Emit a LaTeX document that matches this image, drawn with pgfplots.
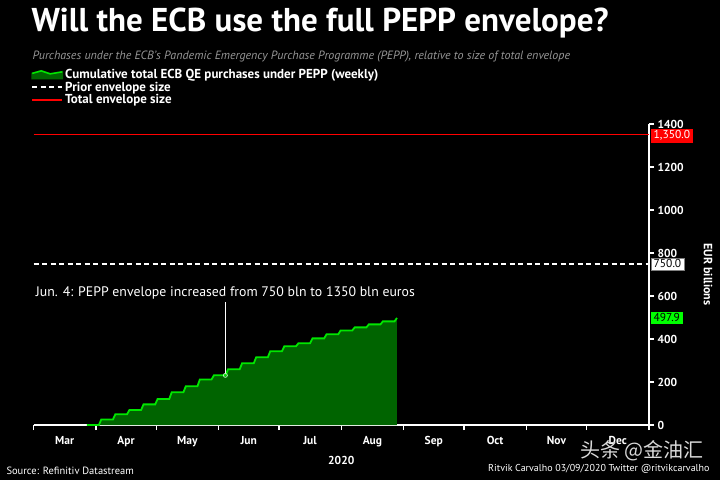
\documentclass[border=0pt]{standalone}
\usepackage{fontspec}
\setmainfont{PT Sans}
\newfontfamily\cjk{Noto Sans CJK SC}
\usepackage{pgfplots}
\usepackage{pgfplotstable}
\pgfplotsset{compat=1.18}
\definecolor{pgreen}{RGB}{0,230,0}
\definecolor{pfill}{RGB}{0,100,0}
\definecolor{boxgreen}{RGB}{0,255,0}
\definecolor{subgray}{RGB}{150,150,150}

% cumulative PEPP purchases, days since 1 Mar 2020, EUR bn
\pgfplotstableread{
day   bn
26.5  0
32.5  0
33.7  26
39.5  26
40.7  50
46.5  50
47.7  70
53.5  70
54.7  96
60.5  96
61.7  121
67.5  121
68.7  152
74.5  152
75.7  180
81.5  180
82.7  212
88.5  212
89.7  231
95.5  231
96.7  259
102.5 259
103.7 287
109.5 287
110.7 315
116.5 315
117.7 343
123.5 343
124.7 366
130.5 366
131.7 380
137.5 380
138.7 403
144.5 403
145.7 422
151.5 422
152.7 440
158.5 440
159.7 454
165.5 454
166.7 468
172.5 468
173.7 482
179.5 482
180.7 497.9
}\pepp

\begin{document}
\begin{tikzpicture}[x=1pt,y=1pt]
\fill[black] (0,0) rectangle (720,480);
\useasboundingbox (0,0) rectangle (720,480);

\node[anchor=west, text=white, font=\bfseries\fontsize{33}{35}\selectfont]
  at (28,457) {Will the ECB use the full PEPP envelope?};
\node[anchor=west, text=subgray, font=\itshape\fontsize{12}{13}\selectfont]
  at (29,423) {Purchases under the ECB's Pandemic Emergency Purchase Programme (PEPP), relative to size of total envelope};

\begin{axis}[
  at={(33.5pt,55pt)}, anchor=south west,
  scale only axis,
  width=615.5pt, height=301pt,
  xmin=0, xmax=306, ymin=0, ymax=1400,
  axis x line*=bottom, axis y line*=right,
  axis line style={white, line width=1.6pt},
  tick align=outside,
  major tick length=5pt,
  tick style={white, line width=1.3pt},
  xtick={0,31,61,92,122,153,184,214,245,275,306},
  xticklabels={Mar,Apr,May,Jun,Jul,Aug,Sep,Oct,Nov,Dec},
  x tick label as interval,
  xticklabel style={text=white, font=\bfseries\fontsize{11.5}{12}\selectfont, yshift=-2.5pt},
  ytick={0,200,...,1400},
  yticklabel style={text=white, font=\bfseries\fontsize{11.5}{12}\selectfont,
    /pgf/number format/assume math mode=true, /pgf/number format/1000 sep={}},
  xlabel={2020},
  xlabel style={text=white, font=\bfseries\fontsize{11.5}{12}\selectfont, yshift=-3pt},
  ylabel={EUR billions},
  ylabel style={text=white, font=\bfseries\fontsize{12}{13}\selectfont,
    at={(axis description cs:1.096,0.5)}, rotate=180, anchor=center},
  clip=false,
  legend style={at={(axis description cs:-0.004,1.19)}, anchor=north west,
    draw=none, fill=none, text=white, inner sep=0pt,
    font=\bfseries\fontsize{13}{13}\selectfont,
    row sep=-2pt},
  legend cell align=left,
]
\addplot[draw=none, fill=pfill, forget plot] table[x=day, y=bn] {\pepp} \closedcycle;
\addplot[pgreen, line width=1.8pt,
  legend image code/.code={
    \fill[pfill] (0pt,-4pt) -- (0pt,1pt) -- (9pt,3.5pt) -- (18pt,0.5pt) -- (30pt,2.5pt) -- (30pt,-4pt) -- cycle;
    \draw[pgreen, line width=1.5pt] (0pt,1pt) -- (9pt,3.5pt) -- (18pt,0.5pt) -- (30pt,2.5pt);}]
  table[x=day, y=bn] {\pepp};
\addlegendentry{Cumulative total ECB QE purchases under PEPP (weekly)}
\addplot[white, line width=1.5pt, dash pattern=on 5pt off 3.5pt,
  legend image code/.code={\draw[line width=1.8pt] (0pt,0pt) -- (30pt,0pt);}]
  coordinates {(0,750) (306,750)};
\addlegendentry{Prior envelope size}
\addplot[red, line width=1.5pt,
  legend image code/.code={\draw[red, line width=2pt] (0pt,0.3pt) -- (30pt,0.3pt);}]
  coordinates {(0,1350) (306,1350)};
\addlegendentry{Total envelope size}

% annotation
\addplot[white, line width=0.9pt, forget plot] coordinates {(95.4,240) (95.4,572)};
\addplot[only marks, mark=o, mark size=2pt, draw=white!70!pgreen, line width=0.8pt, forget plot]
  coordinates {(95.4,231)};
\node[text=white, font=\fontsize{13.8}{14}\selectfont] at (axis cs:95.4,614)
  {Jun. 4: PEPP envelope increased from 750 bln to 1350 bln euros};

% value boxes on the right axis
\node[anchor=west, fill=red, text=white, inner xsep=3pt, inner ysep=1.8pt, xshift=1.5pt, yshift=-1pt,
  font=\fontsize{11.5}{12}\selectfont] at (axis cs:306,1350) {1,350.0};
\node[anchor=west, fill=white, draw=gray, text=black, inner xsep=3pt, inner ysep=1.8pt, xshift=1.5pt,
  font=\fontsize{11.5}{12}\selectfont] at (axis cs:306,750) {750.0};
\node[anchor=west, fill=boxgreen, text=black, inner xsep=3pt, inner ysep=1.8pt, xshift=1.5pt,
  font=\fontsize{11.5}{12}\selectfont] at (axis cs:306,497.9) {497.9};
\end{axis}

\node[anchor=east, text=white!85!black, font=\cjk\fontsize{20}{22}\selectfont]
  at (707,29) {头条 @金油汇};
\node[anchor=west, text=white, font=\fontsize{10.5}{11}\selectfont]
  at (3,9) {Source: Refinitiv Datastream};
\node[anchor=east, text=white, font=\fontsize{10}{11}\selectfont]
  at (713,11) {Ritvik Carvalho 03/09/2020 Twitter @ritvikcarvalho};
\end{tikzpicture}
\end{document}
